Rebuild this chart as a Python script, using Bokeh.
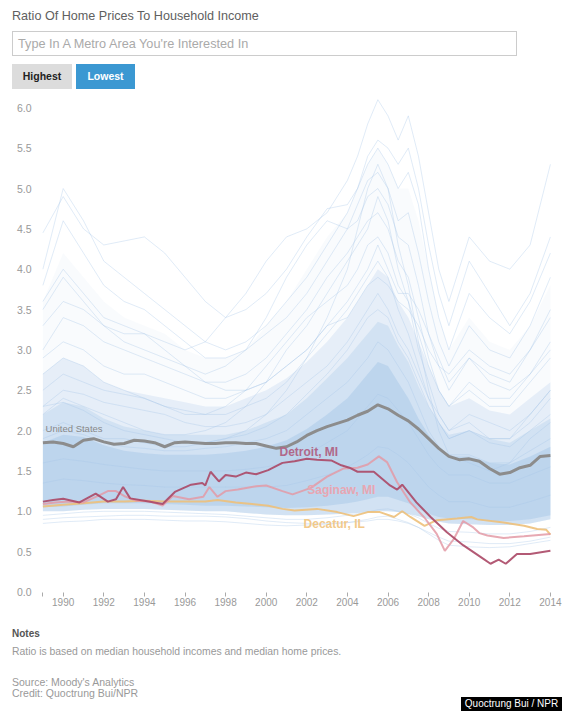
from bokeh.plotting import figure
from bokeh.layouts import column
from bokeh.models import Label, Range1d, FixedTicker, PrintfTickFormatter, Div
from bokeh.embed import file_html
from bokeh.resources import INLINE

FONT = "Liberation Sans"

# ---------------- data ----------------
us_x = [1989.0, 1989.5, 1990.0, 1990.5, 1991.0, 1991.5, 1992.0, 1992.5, 1993.0, 1993.5, 1994.0, 1994.5,
        1995.0, 1995.5, 1996.0, 1996.5, 1997.0, 1997.5, 1998.0, 1998.5, 1999.0, 1999.5, 2000.0, 2000.5,
        2001.0, 2001.5, 2002.0, 2002.5, 2003.0, 2003.5, 2004.0, 2004.5, 2005.0, 2005.5, 2006.0, 2006.5,
        2007.0, 2007.5, 2008.0, 2008.5, 2009.0, 2009.5, 2010.0, 2010.5, 2011.0, 2011.5, 2012.0, 2012.5,
        2013.0, 2013.5, 2014.0]
us_y = [1.85, 1.86, 1.84, 1.80, 1.88, 1.90, 1.86, 1.83, 1.84, 1.88, 1.87, 1.85,
        1.80, 1.85, 1.86, 1.85, 1.84, 1.84, 1.85, 1.85, 1.84, 1.84, 1.81, 1.78,
        1.80, 1.86, 1.94, 2.00, 2.05, 2.09, 2.13, 2.19, 2.24, 2.32, 2.27, 2.19,
        2.12, 2.02, 1.90, 1.78, 1.68, 1.64, 1.65, 1.62, 1.53, 1.46, 1.48, 1.54,
        1.57, 1.68, 1.69]

detroit_x = [1989.0, 1989.5, 1990.0, 1990.8, 1991.6, 1992.2, 1992.6, 1992.95, 1993.3, 1994.0, 1994.9,
             1995.5, 1996.3, 1996.85, 1997.0, 1997.26, 1997.67, 1998.0, 1998.5, 1999.0, 1999.5, 2000.1,
             2000.8, 2001.4, 2002.0, 2002.5, 2003.2, 2003.7, 2004.1, 2004.5, 2005.3, 2006.1, 2006.45,
             2006.7, 2007.4, 2008.1, 2008.9, 2009.7, 2010.7, 2011.05, 2011.45, 2011.8, 2012.35, 2013.0,
             2014.0]
detroit_y = [1.12, 1.14, 1.155, 1.11, 1.22, 1.12, 1.15, 1.30, 1.16, 1.13, 1.09,
             1.24, 1.33, 1.35, 1.32, 1.49, 1.37, 1.45, 1.43, 1.48, 1.46, 1.51,
             1.60, 1.62, 1.65, 1.64, 1.63, 1.57, 1.54, 1.49, 1.49, 1.32, 1.27,
             1.33, 1.11, 0.93, 0.74, 0.58, 0.41, 0.35, 0.40, 0.35, 0.47, 0.47,
             0.51]

saginaw_x = [1989.0, 1989.6, 1990.3, 1991.0, 1991.8, 1992.2, 1992.6, 1993.0, 1993.6, 1994.3, 1994.9,
             1995.4, 1996.2, 1996.9, 1997.2, 1997.6, 1998.0, 1998.6, 1999.5, 2000.0, 2000.8, 2001.3,
             2002.2, 2003.0, 2003.8, 2004.5, 2005.0, 2005.55, 2005.95, 2006.45, 2007.1, 2007.8, 2008.4,
             2008.8, 2009.25, 2009.7, 2010.2, 2010.5, 2010.9, 2011.7, 2012.7, 2014.0]
saginaw_y = [1.09, 1.11, 1.12, 1.11, 1.20, 1.25, 1.25, 1.19, 1.13, 1.12, 1.07,
             1.19, 1.15, 1.18, 1.30, 1.18, 1.25, 1.27, 1.31, 1.32, 1.25, 1.21,
             1.29, 1.43, 1.53, 1.54, 1.58, 1.68, 1.61, 1.36, 1.11, 0.92, 0.72,
             0.51, 0.66, 0.88, 0.80, 0.73, 0.70, 0.67, 0.69, 0.72]

decatur_x = [1989.0, 1990.0, 1991.0, 1992.0, 1993.0, 1994.0, 1995.0, 1996.0, 1997.0, 1997.6, 1998.5,
             1999.3, 2000.1, 2000.8, 2001.4, 2002.5, 2003.5, 2004.3, 2005.0, 2005.6, 2006.3, 2006.7,
             2007.1, 2007.8, 2008.4, 2009.4, 2010.1, 2010.4, 2011.7, 2012.7, 2013.35, 2013.8, 2014.0]
decatur_y = [1.06, 1.08, 1.10, 1.12, 1.12, 1.13, 1.12, 1.12, 1.12, 1.14, 1.11,
             1.09, 1.07, 1.03, 1.01, 1.03, 0.99, 0.94, 0.99, 0.99, 0.93, 1.00,
             0.93, 0.82, 0.89, 0.91, 0.93, 0.90, 0.86, 0.82, 0.78, 0.77, 0.71]

# background metros (faint lines), read approximately
bg_years = [1989, 1990, 1991, 1992, 1993, 1994, 1995, 1996, 1997, 1998, 1999, 2000, 2001, 2002, 2003, 2004,
            2004.5, 2005, 2005.5, 2006, 2006.5, 2007, 2007.5, 2008, 2008.5, 2009, 2010, 2011, 2012, 2013, 2014]
bg_p1 = [3.6, 4.0, 3.7, 3.4, 3.3, 3.2, 3.1, 3.0, 3.1, 3.4, 3.7, 4.1, 4.4, 4.5, 4.7, 5.1, 5.4, 5.8, 6.1, 5.9, 5.6, 5.9, 5.4, 4.7, 4.0, 3.6, 4.4, 4.1, 4.0, 4.3, 5.3]
bg_p2 = [4.45, 4.9, 4.5, 4.3, 4.35, 4.4, 4.2, 3.9, 3.6, 3.4, 3.5, 3.7, 4.0, 4.4, 4.75, 4.8, 5.0, 5.4, 5.6, 5.5, 5.3, 5.5, 5.0, 4.3, 3.7, 3.3, 4.1, 3.7, 3.3, 3.7, 4.4]
bg_p3 = [4.0, 5.0, 4.6, 4.1, 3.9, 3.7, 3.5, 3.3, 3.1, 3.0, 3.1, 3.3, 3.6, 3.9, 4.3, 4.7, 5.0, 5.3, 5.5, 5.3, 5.0, 5.2, 4.8, 4.0, 3.4, 3.0, 3.7, 3.4, 3.2, 3.6, 4.2]
bg_p4 = [3.8, 4.6, 4.2, 3.8, 3.6, 3.5, 3.3, 3.1, 2.9, 2.9, 3.0, 3.2, 3.4, 3.7, 4.1, 4.5, 4.8, 5.1, 5.2, 5.0, 4.6, 4.7, 4.2, 3.6, 3.1, 2.8, 3.3, 3.0, 2.9, 3.3, 3.9]
bg_p5 = [3.3, 3.6, 3.5, 3.3, 3.2, 3.2, 3.0, 2.8, 2.7, 2.8, 3.0, 3.4, 3.9, 4.3, 4.6, 4.5, 4.6, 4.9, 5.0, 4.8, 4.4, 4.3, 3.8, 3.2, 2.8, 2.5, 2.9, 2.7, 2.6, 3.0, 3.5]
bg_p6 = [3.0, 3.4, 3.3, 3.1, 3.0, 2.9, 2.8, 2.7, 2.6, 2.6, 2.7, 2.9, 3.2, 3.5, 3.9, 4.2, 4.4, 4.6, 4.7, 4.5, 4.1, 3.9, 3.4, 2.9, 2.5, 2.3, 2.6, 2.4, 2.4, 2.7, 3.1]
bg_p7 = [2.0, 2.1, 2.0, 1.9, 1.9, 1.85, 1.8, 1.8, 1.85, 1.9, 2.0, 2.2, 2.5, 2.9, 3.4, 4.0, 4.5, 5.0, 5.3, 5.0, 4.3, 3.8, 3.1, 2.5, 2.0, 1.7, 1.6, 1.5, 1.6, 1.9, 2.1]
bg_p8 = [2.2, 2.4, 2.3, 2.2, 2.1, 2.0, 1.95, 1.95, 2.0, 2.1, 2.3, 2.6, 3.0, 3.3, 3.7, 4.1, 4.3, 4.5, 4.9, 4.6, 4.0, 3.6, 3.0, 2.6, 2.2, 2.0, 2.1, 1.9, 1.9, 2.2, 2.5]
bg_p9 = [2.7, 2.9, 2.8, 2.6, 2.5, 2.4, 2.3, 2.2, 2.2, 2.3, 2.5, 2.8, 3.1, 3.4, 3.6, 3.8, 4.0, 4.3, 4.4, 4.2, 3.8, 3.6, 3.2, 2.8, 2.5, 2.3, 2.5, 2.3, 2.3, 2.6, 2.9]
bg_p10 = [2.5, 2.7, 2.6, 2.5, 2.45, 2.4, 2.3, 2.25, 2.2, 2.2, 2.3, 2.4, 2.6, 2.9, 3.2, 3.5, 3.7, 3.9, 4.1, 3.9, 3.5, 3.2, 2.8, 2.4, 2.1, 1.9, 2.0, 1.9, 1.9, 2.1, 2.4]
bg_p11 = [2.9, 3.1, 3.0, 2.8, 2.7, 2.7, 2.6, 2.5, 2.4, 2.4, 2.5, 2.6, 2.8, 3.0, 3.3, 3.4, 3.6, 3.8, 3.9, 3.8, 3.6, 3.5, 3.3, 3.0, 2.8, 2.7, 3.0, 2.8, 2.7, 3.0, 3.4]
bg_p12 = [2.3, 2.5, 2.45, 2.35, 2.3, 2.25, 2.2, 2.1, 2.05, 2.05, 2.1, 2.2, 2.4, 2.6, 2.8, 3.1, 3.3, 3.5, 3.7, 3.5, 3.2, 3.0, 2.7, 2.4, 2.2, 2.0, 2.2, 2.1, 2.0, 2.2, 2.5]
bg_p13 = [3.5, 3.9, 3.6, 3.3, 3.1, 3.0, 2.9, 2.8, 2.6, 2.5, 2.5, 2.6, 2.8, 3.0, 3.3, 3.6, 3.8, 4.0, 4.3, 4.0, 3.7, 3.7, 3.5, 3.2, 2.9, 2.6, 2.9, 2.6, 2.5, 2.7, 3.0]
bg_m1 = [1.9, 2.0, 1.95, 1.85, 1.8, 1.78, 1.75, 1.75, 1.78, 1.8, 1.85, 1.9, 2.0, 2.2, 2.4, 2.6, 2.75, 2.9, 3.1, 3.0, 2.8, 2.6, 2.3, 2.0, 1.8, 1.7, 1.7, 1.6, 1.6, 1.75, 1.9]
bg_m2 = [1.6, 1.65, 1.62, 1.58, 1.55, 1.52, 1.5, 1.5, 1.5, 1.5, 1.52, 1.55, 1.6, 1.7, 1.85, 2.0, 2.15, 2.3, 2.45, 2.4, 2.25, 2.1, 1.9, 1.7, 1.55, 1.45, 1.45, 1.35, 1.35, 1.45, 1.55]
bg_m3 = [1.35, 1.4, 1.38, 1.35, 1.33, 1.32, 1.3, 1.3, 1.3, 1.3, 1.3, 1.3, 1.32, 1.38, 1.45, 1.55, 1.62, 1.7, 1.8, 1.78, 1.7, 1.6, 1.45, 1.3, 1.2, 1.12, 1.12, 1.05, 1.05, 1.12, 1.2]
bg_m4 = [2.3, 2.35, 2.25, 2.1, 2.0, 1.95, 1.9, 1.85, 1.85, 1.9, 1.95, 2.05, 2.2, 2.45, 2.7, 3.0, 3.2, 3.4, 3.5, 3.4, 3.1, 2.9, 2.6, 2.3, 2.1, 1.9, 2.0, 1.85, 1.8, 2.0, 2.2]
bg_l1 = [0.9, 0.92, 0.93, 0.94, 0.95, 0.95, 0.94, 0.94, 0.94, 0.93, 0.91, 0.88, 0.86, 0.85, 0.85, 0.86, 0.87, 0.88, 0.9, 0.9, 0.88, 0.85, 0.8, 0.74, 0.68, 0.63, 0.62, 0.6, 0.6, 0.63, 0.68]
bg_l2 = [0.85, 0.87, 0.88, 0.9, 0.9, 0.9, 0.89, 0.88, 0.88, 0.87, 0.85, 0.83, 0.82, 0.83, 0.84, 0.86, 0.88, 0.9, 0.93, 0.94, 0.9, 0.86, 0.8, 0.72, 0.64, 0.58, 0.56, 0.55, 0.56, 0.6, 0.64]
bg_l3 = [0.95, 0.97, 0.99, 1.0, 1.0, 1.0, 0.99, 0.98, 0.97, 0.96, 0.94, 0.92, 0.9, 0.9, 0.92, 0.95, 0.97, 0.99, 1.02, 1.03, 1.0, 0.97, 0.92, 0.85, 0.79, 0.75, 0.74, 0.72, 0.72, 0.75, 0.8]

# envelopes of the dense bundle of metros
haze_hi = [3.6, 4.2, 3.9, 3.6, 3.4, 3.3, 3.2, 3.0, 2.9, 2.9, 3.0, 3.3, 3.6, 4.0, 4.4, 4.7, 5.0, 5.3, 5.5, 5.3, 5.0, 5.0, 4.6, 4.0, 3.4, 3.0, 3.4, 3.1, 3.0, 3.3, 3.8]
band_lo = [1.0, 1.0, 1.02, 1.03, 1.03, 1.03, 1.02, 1.01, 1.0, 1.0, 0.98, 0.96, 0.95, 0.95, 0.96, 0.97, 0.98, 0.99, 1.0, 1.0, 0.99, 0.97, 0.94, 0.9, 0.87, 0.85, 0.84, 0.83, 0.83, 0.85, 0.9]
band_hi = [2.7, 2.9, 2.8, 2.6, 2.5, 2.45, 2.4, 2.35, 2.3, 2.3, 2.4, 2.5, 2.65, 2.85, 3.1, 3.4, 3.6, 3.8, 4.0, 3.9, 3.6, 3.4, 3.1, 2.8, 2.5, 2.3, 2.4, 2.25, 2.2, 2.4, 2.6]
mid_hi = [2.2, 2.35, 2.3, 2.15, 2.05, 2.0, 1.95, 1.95, 1.95, 1.95, 2.0, 2.1, 2.2, 2.4, 2.65, 2.9, 3.05, 3.2, 3.35, 3.3, 3.05, 2.85, 2.55, 2.3, 2.1, 1.95, 2.0, 1.9, 1.85, 2.0, 2.15]
core_lo = [1.05, 1.06, 1.08, 1.1, 1.1, 1.1, 1.09, 1.08, 1.07, 1.07, 1.06, 1.05, 1.04, 1.05, 1.07, 1.1, 1.12, 1.15, 1.18, 1.18, 1.14, 1.1, 1.03, 0.97, 0.93, 0.91, 0.9, 0.88, 0.88, 0.9, 0.95]
core_hi = [1.85, 1.95, 1.92, 1.82, 1.75, 1.72, 1.7, 1.7, 1.7, 1.72, 1.75, 1.8, 1.88, 2.02, 2.2, 2.4, 2.55, 2.7, 2.85, 2.8, 2.6, 2.4, 2.15, 1.95, 1.8, 1.68, 1.68, 1.6, 1.58, 1.68, 1.8]

x_ticks = [1989, 1990, 1992, 1994, 1996, 1998, 2000, 2002, 2004, 2006, 2008, 2010, 2012, 2014]
y_ticks = [0.0, 0.5, 1.0, 1.5, 2.0, 2.5, 3.0, 3.5, 4.0, 4.5, 5.0, 5.5, 6.0]

title_text = "Ratio Of Home Prices To Household Income"
search_text = "Type In A Metro Area You're Interested In"
notes_head = "Notes"
notes_text = "Ratio is based on median household incomes and median home prices."
source_text = "Source: Moody's Analytics"
credit_text = "Credit: Quoctrung Bui/NPR"
stamp_text = "Quoctrung Bui / NPR"

CSS_FONT = "font-family:'Liberation Sans',Arial,Helvetica,sans-serif;"

# ---------------- header ----------------
header = Div(width=570, height=92, margin=0, text=f"""
<div style="position:relative;width:570px;height:92px;{CSS_FONT}">
 <div style="position:absolute;left:12px;top:8px;font-size:12.6px;line-height:16px;color:#606060;white-space:nowrap;">{title_text}</div>
 <div style="position:absolute;left:12px;top:31px;width:505px;height:25px;border:1px solid #cccccc;background:#fff;"></div>
 <div style="position:absolute;left:18px;top:36px;font-size:12.7px;line-height:16px;color:#aaa;white-space:nowrap;">{search_text}</div>
 <div style="position:absolute;left:12px;top:64px;width:60px;height:25px;background:#dcdcdc;color:#222;font-weight:bold;font-size:10.5px;line-height:25px;text-align:center;">Highest</div>
 <div style="position:absolute;left:76px;top:64px;width:59px;height:25px;background:#3b98d2;color:#fff;font-weight:bold;font-size:10.5px;line-height:25px;text-align:center;">Lowest</div>
</div>""")

# ---------------- figure ----------------
p = figure(width=570, height=533, output_backend="svg", toolbar_location=None,
           x_range=Range1d(1988.931, 2014.103), y_range=Range1d(-0.0062, 6.1896),
           min_border_left=41, min_border_right=18, min_border_top=0, min_border_bottom=33,
           margin=0)
p.outline_line_color = None
p.background_fill_color = "white"
p.border_fill_color = "white"
p.xgrid.visible = False
p.ygrid.visible = False

for ax in (p.xaxis[0], p.yaxis[0]):
    ax.axis_line_color = None
    ax.minor_tick_line_color = None
    ax.major_label_text_font = FONT
    ax.major_label_text_color = "#999999"

p.xaxis.ticker = FixedTicker(ticks=x_ticks)
p.xaxis.major_label_overrides = {1989: ""}
p.xaxis.major_tick_out = 4
p.xaxis.major_tick_in = 0
p.xaxis.major_tick_line_color = "#aaaaaa"
p.xaxis.major_label_standoff = 1
p.xaxis.major_label_text_font_size = "10px"

p.yaxis.ticker = FixedTicker(ticks=y_ticks)
p.yaxis.formatter = PrintfTickFormatter(format="%.1f")
p.yaxis.major_tick_out = 0
p.yaxis.major_tick_in = 0
p.yaxis.major_label_standoff = 10
p.yaxis.major_label_text_font_size = "10.5px"

BLUE = "#9cc0e4"
p.varea(x=bg_years, y1=band_lo, y2=haze_hi, fill_color=BLUE, fill_alpha=0.06)
p.varea(x=bg_years, y1=band_lo, y2=band_hi, fill_color=BLUE, fill_alpha=0.2)
p.varea(x=bg_years, y1=band_lo, y2=mid_hi, fill_color=BLUE, fill_alpha=0.26)
p.varea(x=bg_years, y1=core_lo, y2=core_hi, fill_color=BLUE, fill_alpha=0.38)

bg_lines = [bg_p1, bg_p2, bg_p3, bg_p4, bg_p5, bg_p6, bg_p7, bg_p8, bg_p9, bg_p10, bg_p11, bg_p12, bg_p13,
            bg_m1, bg_m2, bg_m3, bg_m4, bg_l1, bg_l2, bg_l3]
p.multi_line(xs=[bg_years] * len(bg_lines), ys=bg_lines, line_color="#a5c6e8", line_alpha=0.35, line_width=1)

p.line(decatur_x, decatur_y, line_color="#edc07a", line_width=2, line_alpha=0.9)
p.line(saginaw_x, saginaw_y, line_color="#e39aa6", line_width=2, line_alpha=0.85)
p.line(detroit_x, detroit_y, line_color="#ab4866", line_width=2, line_alpha=0.9)
p.line(us_x, us_y, line_color="#8c8c8c", line_width=3)

def dlabel(x, y, text, color, size, bold=False):
    p.add_layout(Label(x=x, y=y, text=text, text_color=color, text_font=FONT,
                       text_font_size=size, text_font_style="bold" if bold else "normal",
                       text_baseline="middle", text_align="left"))

dlabel(1989.13, 2.02, "United States", "#888888", "9.5px")
dlabel(2000.655, 1.741, "Detroit, MI", "#b0688a", "12px", True)
dlabel(2002.02, 1.266, "Saginaw, MI", "#e8a6b2", "12px", True)
dlabel(2001.84, 0.845, "Decatur, IL", "#f2c98a", "12px", True)

# ---------------- footer ----------------
footer = Div(width=570, height=86, margin=0, text=f"""
<div style="position:relative;width:570px;height:86px;{CSS_FONT}font-size:10.5px;line-height:14px;">
 <div style="position:absolute;left:12px;top:2px;color:#555;font-weight:bold;font-size:10px;white-space:nowrap;">{notes_head}</div>
 <div style="position:absolute;left:12px;top:20px;color:#999;font-size:10.4px;white-space:nowrap;">{notes_text}</div>
 <div style="position:absolute;left:12px;top:50px;color:#999;white-space:nowrap;">{source_text}</div>
 <div style="position:absolute;left:12px;top:61px;color:#999;white-space:nowrap;">{credit_text}</div>
 <div style="position:absolute;left:461px;top:72px;width:101px;height:14px;background:#000;color:#fff;font-size:10px;text-align:center;white-space:nowrap;">{stamp_text}</div>
</div>""")

page = column(header, p, footer, spacing=0, margin=0)
open("out.html", "w").write(file_html(page, INLINE))
